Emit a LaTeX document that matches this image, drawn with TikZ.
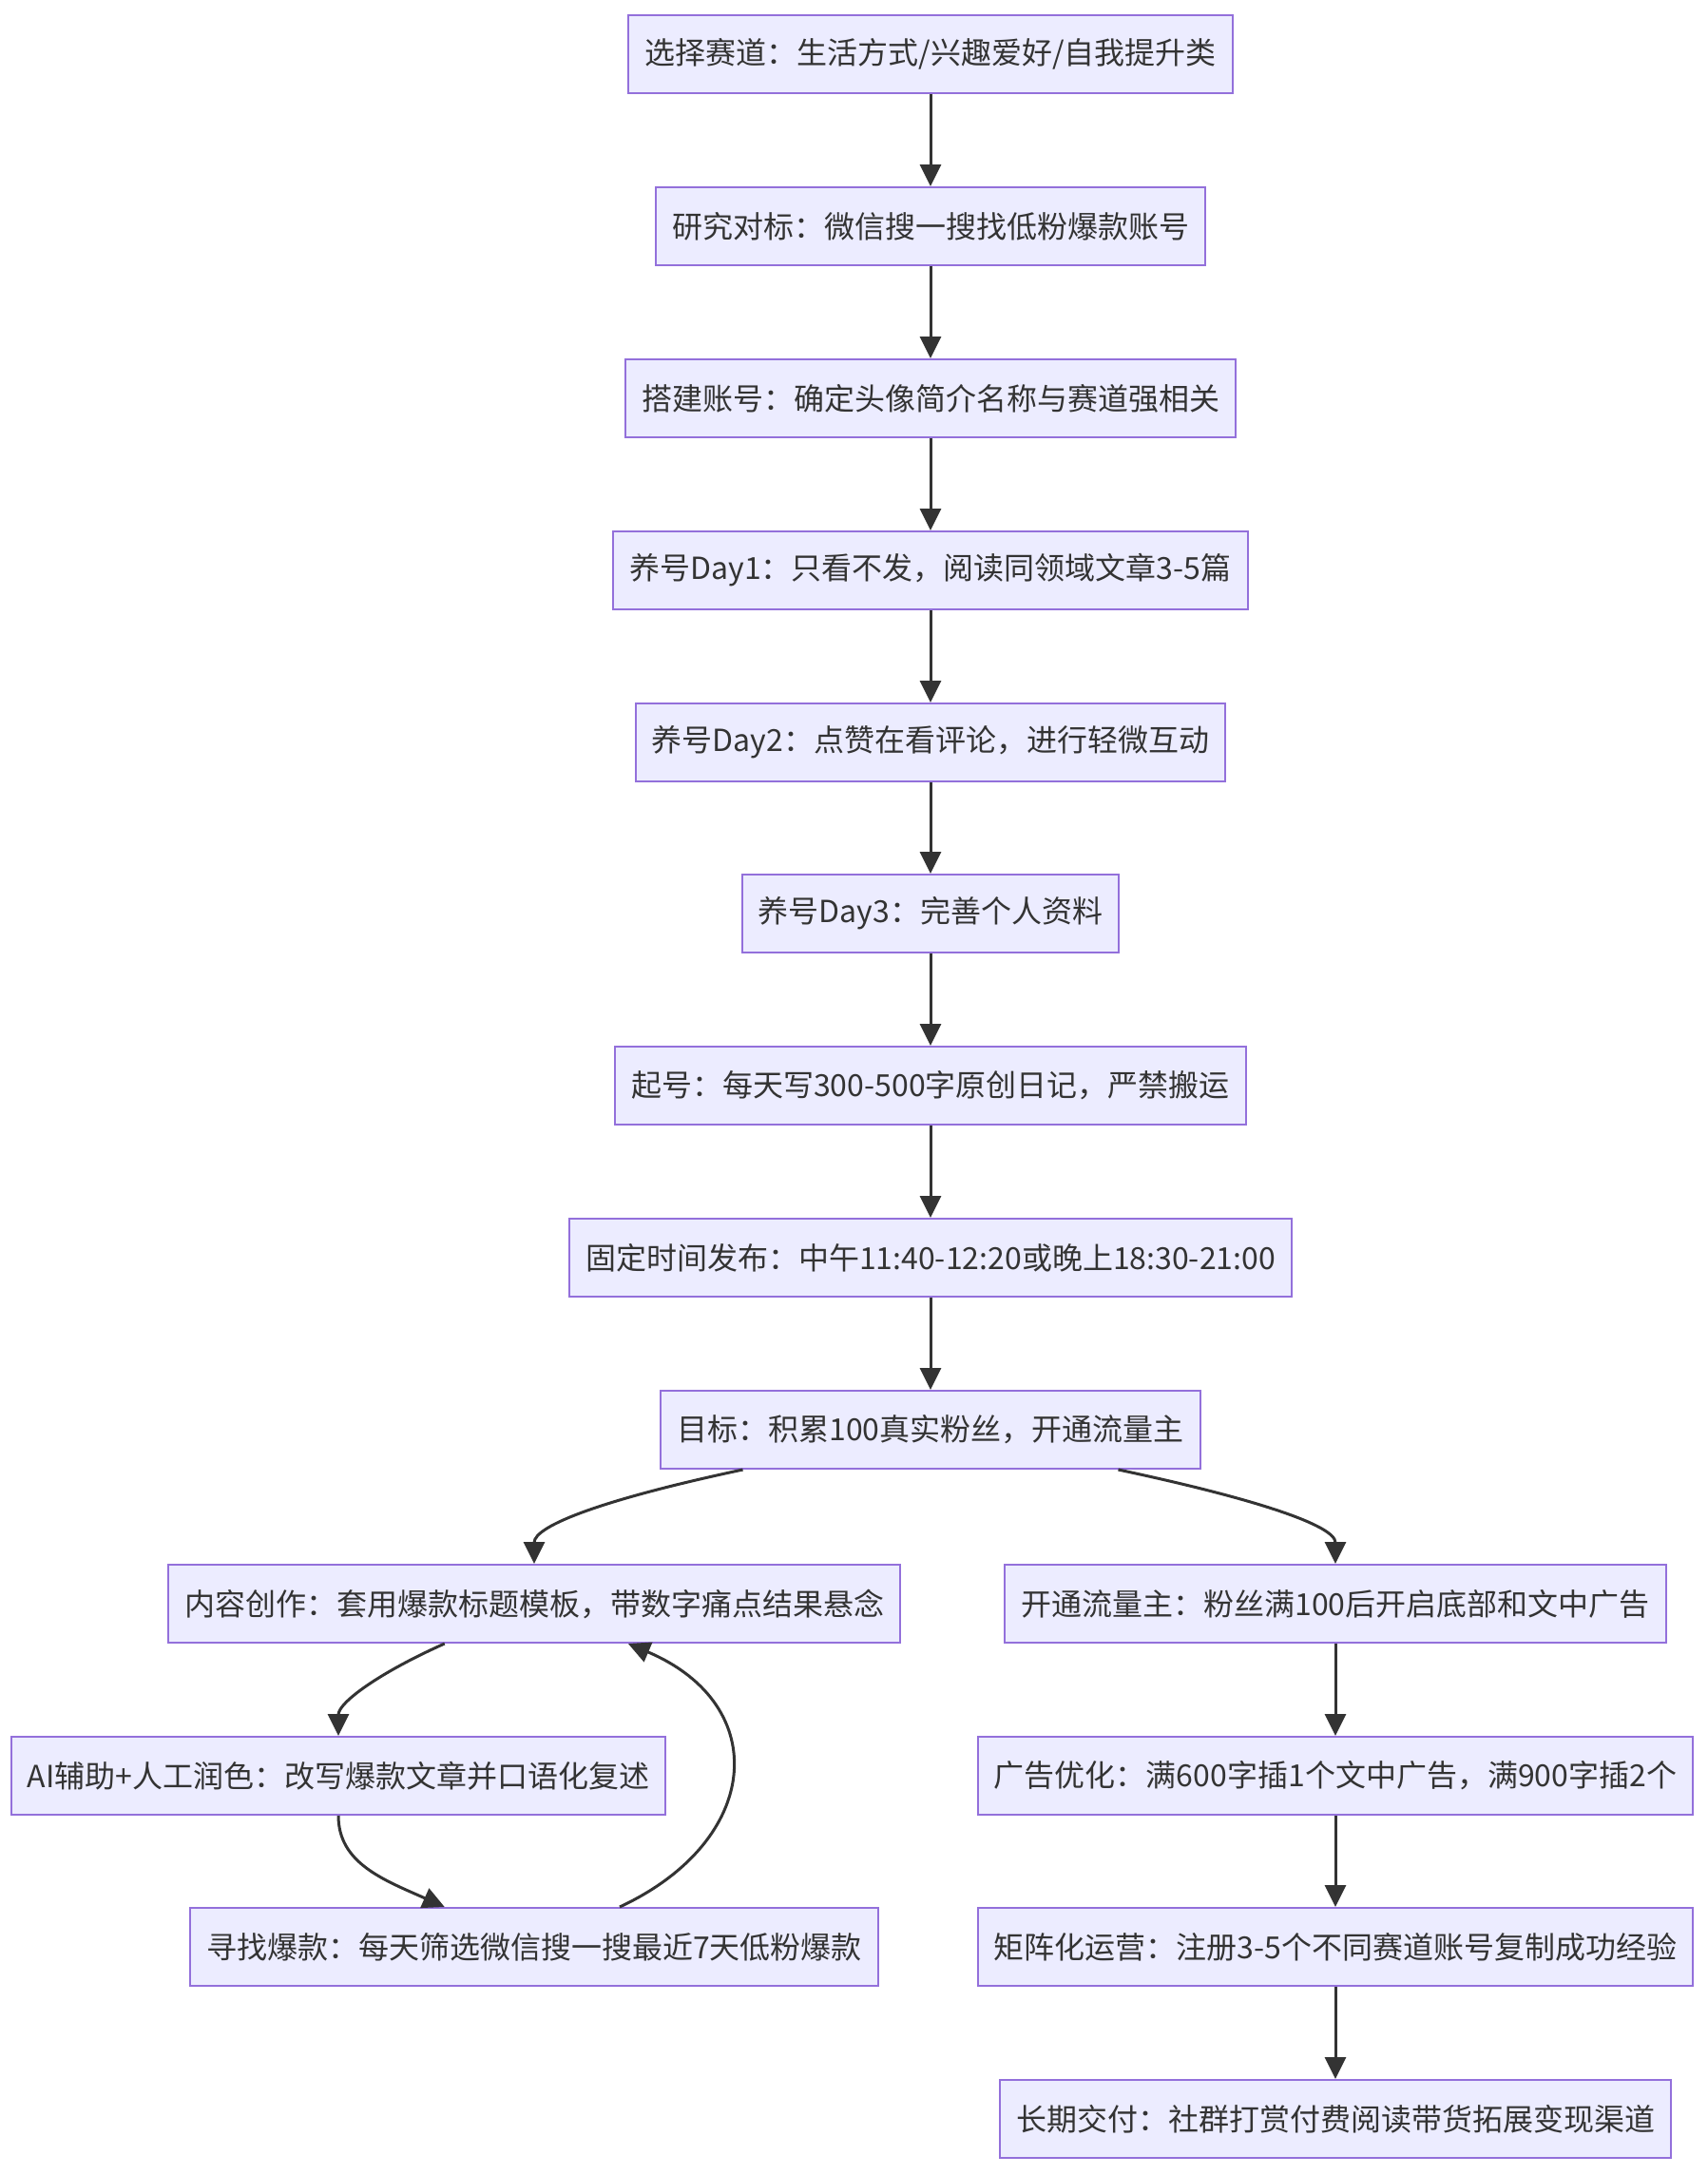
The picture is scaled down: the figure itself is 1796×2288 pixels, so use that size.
\documentclass[tikz,border=0pt]{standalone}
\usepackage{fontspec}
\setmainfont{Noto Sans CJK SC}
\usetikzlibrary{arrows.meta}
\definecolor{boxfill}{HTML}{ECECFF}
\definecolor{boxline}{HTML}{9370DB}
\definecolor{ink}{HTML}{333333}

\begin{document}
\begin{tikzpicture}[x=1pt, y=1pt, >={Triangle[length=23pt, width=22pt]},
  box/.style={draw=boxline, fill=boxfill, line width=2pt, text=ink,
              font=\fontsize{32}{38}\selectfont, minimum height=82pt,
              inner xsep=17pt, inner ysep=0pt},
  link/.style={->, draw=ink, line width=3pt}]
  \useasboundingbox (0,0) rectangle (1796,-2288);

  % 主线：从选赛道到目标
  \node[box] (track)  at (979,-57)   {选择赛道：生活方式/兴趣爱好/自我提升类};
  \node[box] (bench)  at (979,-238)  {研究对标：微信搜一搜找低粉爆款账号};
  \node[box] (setup)  at (979,-419)  {搭建账号：确定头像简介名称与赛道强相关};
  \node[box] (day1)   at (979,-600)  {养号Day1：只看不发，阅读同领域文章3-5篇};
  \node[box] (day2)   at (979,-781)  {养号Day2：点赞在看评论，进行轻微互动};
  \node[box] (day3)   at (979,-961)  {养号Day3：完善个人资料};
  \node[box] (launch) at (979,-1142) {起号：每天写300-500字原创日记，严禁搬运};
  \node[box] (timing) at (979,-1323) {固定时间发布：中午11:40-12:20或晚上18:30-21:00};
  \node[box] (goal)   at (979,-1504) {目标：积累100真实粉丝，开通流量主};

  % 左支：内容循环
  \node[box] (content) at (562,-1687) {内容创作：套用爆款标题模板，带数字痛点结果悬念};
  \node[box] (ai)      at (356,-1868) {AI辅助+人工润色：改写爆款文章并口语化复述};
  \node[box] (find)    at (562,-2048) {寻找爆款：每天筛选微信搜一搜最近7天低粉爆款};

  % 右支：变现
  \node[box] (monet)   at (1405,-1687) {开通流量主：粉丝满100后开启底部和文中广告};
  \node[box] (adopt)   at (1405,-1868) {广告优化：满600字插1个文中广告，满900字插2个};
  \node[box] (matrix)  at (1405,-2048) {矩阵化运营：注册3-5个不同赛道账号复制成功经验};
  \node[box] (deliver) at (1405,-2229) {长期交付：社群打赏付费阅读带货拓展变现渠道};

  % 箭头
  \draw[link] (track)  -- (bench);
  \draw[link] (bench)  -- (setup);
  \draw[link] (setup)  -- (day1);
  \draw[link] (day1)   -- (day2);
  \draw[link] (day2)   -- (day3);
  \draw[link] (day3)   -- (launch);
  \draw[link] (launch) -- (timing);
  \draw[link] (timing) -- (goal);
  \draw[link] (goal) to[out=192, in=90, out distance=150pt, in distance=40pt] (content);
  \draw[link] (goal) to[out=348, in=90, out distance=150pt, in distance=40pt] (monet);
  \draw[link] (content) to[out=204, in=90, out distance=75pt, in distance=35pt] (ai);
  \draw[link] (ai) to[out=270, in=156, out distance=50pt, in distance=70pt] (find);
  \draw[link] (find) to[out=25, in=337, distance=165pt] (content);
  \draw[link] (monet)  -- (adopt);
  \draw[link] (adopt)  -- (matrix);
  \draw[link] (matrix) -- (deliver);
\end{tikzpicture}
\end{document}
